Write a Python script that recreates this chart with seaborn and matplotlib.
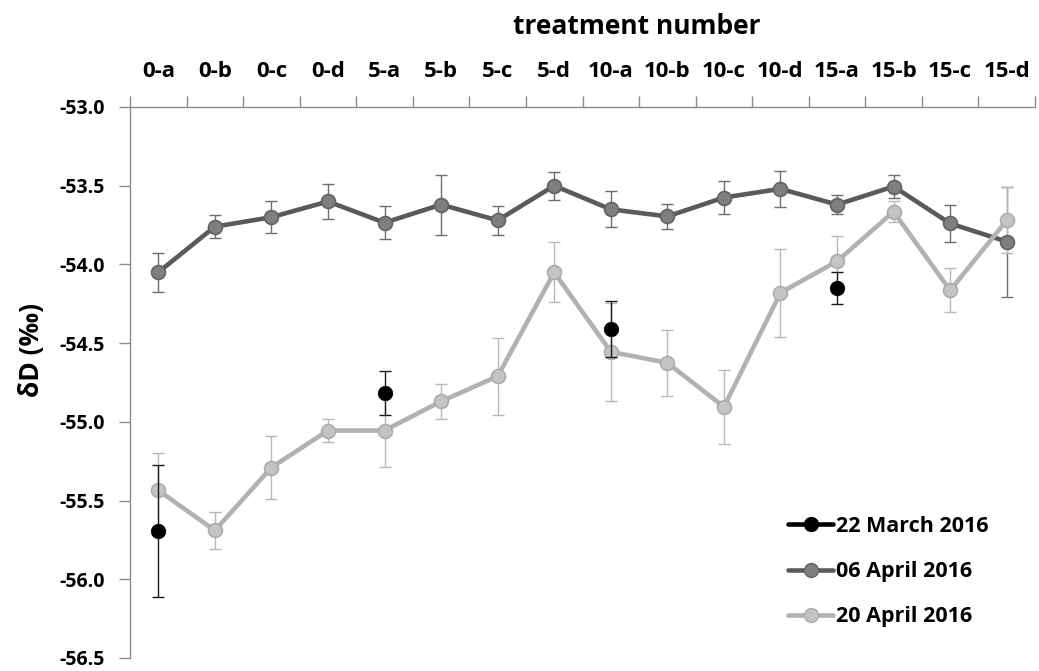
import matplotlib
matplotlib.use("Agg")
import matplotlib.pyplot as plt
from matplotlib.lines import Line2D
import numpy as np
import pandas as pd
import seaborn as sns

categories = ["0-a", "0-b", "0-c", "0-d", "5-a", "5-b", "5-c", "5-d",
              "10-a", "10-b", "10-c", "10-d", "15-a", "15-b", "15-c", "15-d"]

apr06_mean = [-54.05, -53.76, -53.70, -53.60, -53.735, -53.62, -53.72, -53.50,
              -53.65, -53.695, -53.575, -53.52, -53.62, -53.505, -53.74, -53.855]
apr06_err = [0.125, 0.075, 0.10, 0.11, 0.105, 0.19, 0.09, 0.088,
             0.115, 0.08, 0.105, 0.115, 0.06, 0.07, 0.12, 0.35]

apr20_mean = [-55.435, -55.69, -55.29, -55.055, -55.055, -54.87, -54.71, -54.05,
              -54.555, -54.625, -54.905, -54.18, -53.98, -53.665, -54.165, -53.72]
apr20_err = [0.235, 0.12, 0.20, 0.075, 0.23, 0.11, 0.245, 0.19,
             0.31, 0.21, 0.235, 0.28, 0.16, 0.065, 0.14, 0.21]

mar22_cats = ["0-a", "5-a", "10-a", "15-a"]
mar22_mean = [-55.695, -54.815, -54.41, -54.15]
mar22_err = [0.42, 0.14, 0.18, 0.10]

labels = ["22 March 2016", "06 April 2016", "20 April 2016"]
yticks = [-53.0, -53.5, -54.0, -54.5, -55.0, -55.5, -56.0, -56.5]

sns.set_theme(style="white")
FONT = ["Open Sans", "DejaVu Sans"]
plt.rcParams["font.family"] = FONT
plt.rcParams["font.weight"] = "bold"
plt.rcParams["text.color"] = "black"
plt.rcParams["xtick.labelcolor"] = "black"
plt.rcParams["ytick.labelcolor"] = "black"

pos = {c: i for i, c in enumerate(categories)}
df06 = pd.DataFrame({"x": [pos[c] for c in categories], "y": apr06_mean, "e": apr06_err})
df20 = pd.DataFrame({"x": [pos[c] for c in categories], "y": apr20_mean, "e": apr20_err})
df22 = pd.DataFrame({"x": [pos[c] for c in mar22_cats], "y": mar22_mean, "e": mar22_err})

fig = plt.figure(figsize=(10.39, 6.71), dpi=100)
ax = fig.add_axes([130 / 1039, 1 - 658 / 671, (1035 - 130) / 1039, (658 - 107) / 671])

dark_line, dark_face, dark_edge = "#5a5a5a", "#7f7f7f", "#636363"
light_line, light_face, light_edge = "#b2b2b2", "#c4c4c4", "#acacac"

# error bars
ax.errorbar(df06["x"], df06["y"], yerr=df06["e"], fmt="none", ecolor="#6e6e6e",
            elinewidth=1.0, capsize=4.5, capthick=1.0, zorder=2)
ax.errorbar(df20["x"], df20["y"], yerr=df20["e"], fmt="none", ecolor="#b8b8b8",
            elinewidth=1.0, capsize=4.5, capthick=1.0, zorder=2)
ax.errorbar(df22["x"], df22["y"], yerr=df22["e"], fmt="none", ecolor="#1a1a1a",
            elinewidth=1.0, capsize=4.5, capthick=1.0, zorder=5)

sns.lineplot(data=df06, x="x", y="y", ax=ax, color=dark_line, linewidth=3.3,
             marker="o", markersize=10, markerfacecolor=dark_face,
             markeredgecolor=dark_edge, markeredgewidth=1.2, zorder=3)
sns.lineplot(data=df20, x="x", y="y", ax=ax, color=light_line, linewidth=3.3,
             marker="o", markersize=10, markerfacecolor=light_face,
             markeredgecolor=light_edge, markeredgewidth=1.2, zorder=4)
sns.scatterplot(data=df22, x="x", y="y", ax=ax, color="black", s=110,
                edgecolor="black", linewidth=0.5, zorder=6)

ax.set_xlim(-0.5, len(categories) - 0.5)
ax.set_ylim(-56.5, -53.0)
ax.set_yticks(yticks)
ax.set_yticklabels([f"{v:.1f}" for v in yticks], fontsize=14, fontweight="bold")

ax.xaxis.tick_top()
ax.set_xticks(range(len(categories)))
ax.set_xticklabels(categories, fontsize=16, fontweight="bold")
ax.set_xticks(np.arange(-0.5, len(categories), 1.0), minor=True)
ax.tick_params(axis="x", which="major", length=0, pad=18, labelcolor="black")
ax.tick_params(axis="x", which="minor", top=True, bottom=False, length=8,
               width=1, color="#8c8c8c", direction="out")
ax.tick_params(axis="y", which="major", left=True, length=8, width=1,
               color="#8c8c8c", direction="out", pad=10, labelcolor="black")
ax.set_xlabel("")
ax.set_ylabel("")

for s in ["bottom", "right"]:
    ax.spines[s].set_visible(False)
for s in ["left", "top"]:
    ax.spines[s].set_visible(True)
    ax.spines[s].set_color("#8c8c8c")
    ax.spines[s].set_linewidth(1.0)
ax.grid(False)

fig.text(637 / 1039, 1 - 27 / 671, "treatment number", ha="center", va="center",
         fontsize=19, fontweight="bold", family=FONT, color="black")
fig.text(32 / 1039, 1 - 350 / 671, "δD (‰)", ha="center", va="center",
         rotation=90, fontsize=19, fontweight="bold", family=FONT, color="black")

handles = [
    Line2D([], [], color="black", linewidth=3.3, marker="o", markersize=10,
           markerfacecolor="black", markeredgecolor="black"),
    Line2D([], [], color=dark_line, linewidth=3.3, marker="o", markersize=10,
           markerfacecolor=dark_face, markeredgecolor=dark_edge),
    Line2D([], [], color=light_line, linewidth=3.3, marker="o", markersize=10,
           markerfacecolor=light_face, markeredgecolor=light_edge),
]
leg = fig.legend(handles, labels, loc="upper left",
                 bbox_to_anchor=(788 / 1039, 1 - 516 / 671), frameon=False,
                 prop={"family": FONT, "weight": "bold", "size": 15.5},
                 handlelength=2.1, handletextpad=0.15, labelspacing=1.12,
                 borderpad=0, borderaxespad=0)
for t in leg.get_texts():
    t.set_color("black")

fig.savefig("out.png", dpi=100)
